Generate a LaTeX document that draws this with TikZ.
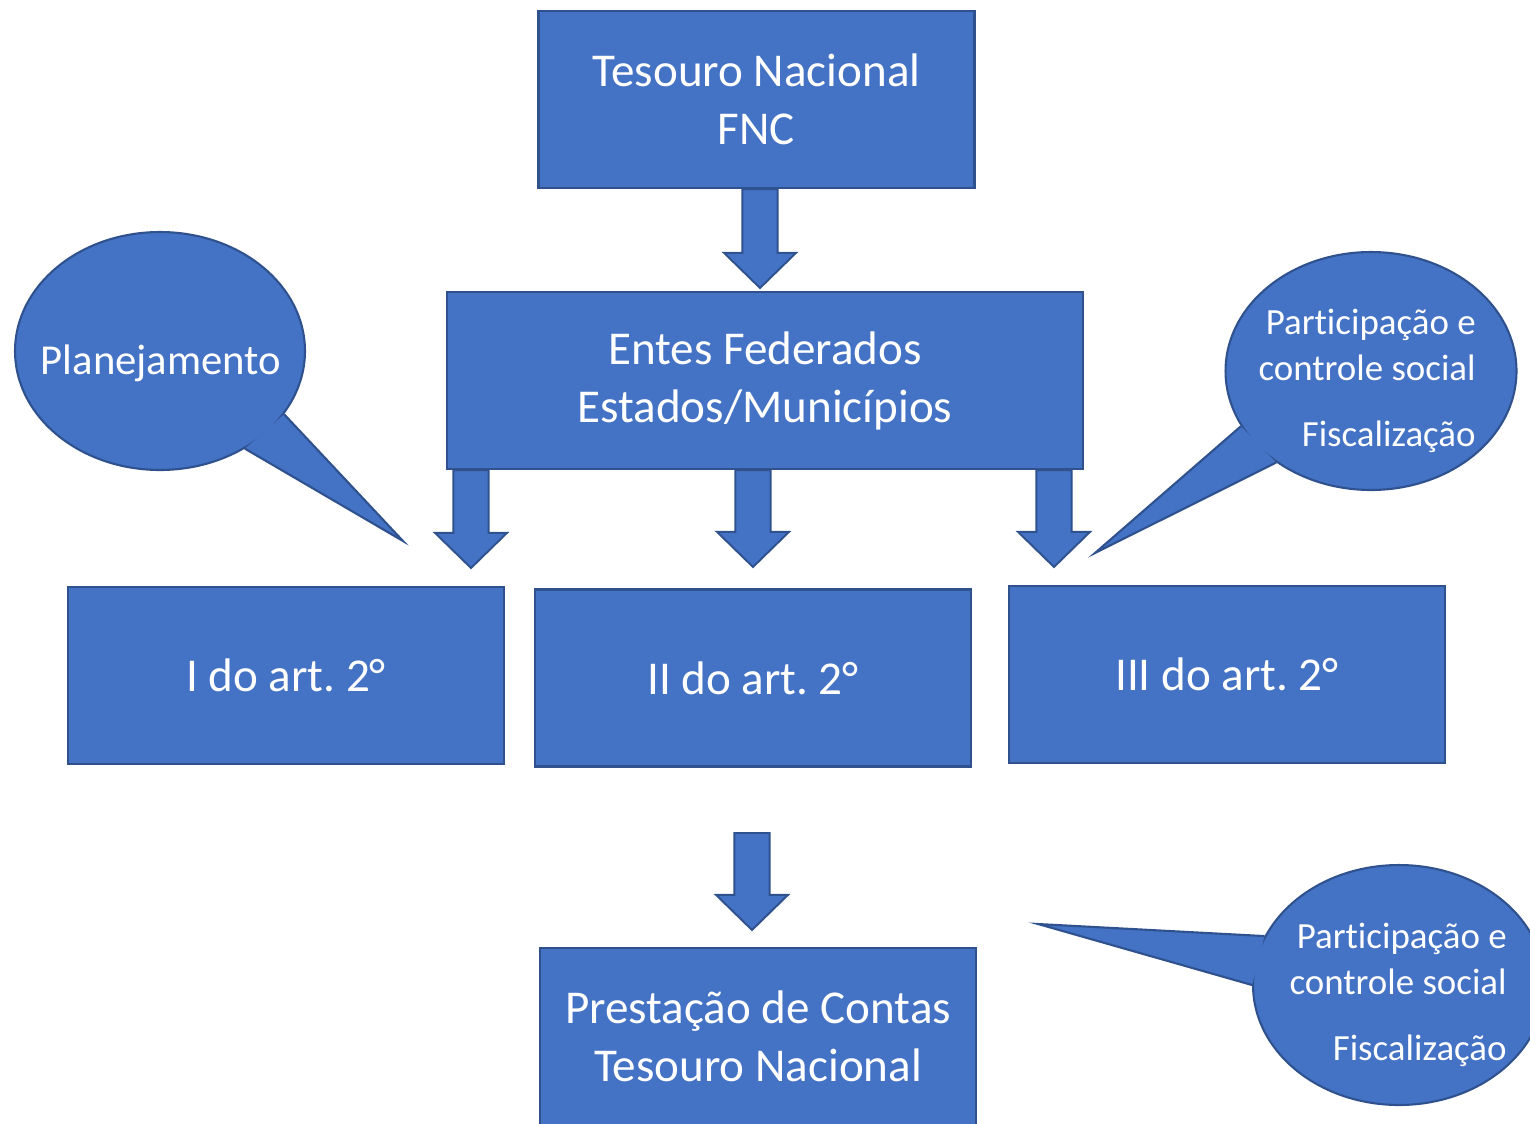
\documentclass[tikz,border=0pt]{standalone}
\usepackage{fontspec}
\setmainfont{Carlito}[Ligatures=NoCommon]
\usetikzlibrary{calc,positioning,shapes.geometric}

\definecolor{bluefill}{HTML}{4472C4}
\definecolor{blueedge}{HTML}{2F528F}

\tikzset{
  box/.style={rectangle, fill=bluefill, draw=blueedge, line width=1.3pt, text=white,
    minimum width=8.72cm, minimum height=3.54cm, inner sep=0, align=center,
    font=\fontsize{26.8}{33}\selectfont},
  barrow/.style={fill=bluefill, draw=blueedge, line width=1.1pt, line join=miter},
  bubble/.style={ellipse, fill=bluefill, draw=blueedge, line width=1.2pt, inner sep=0,
    minimum width=5.8cm, minimum height=4.76cm},
  tail/.style={fill=bluefill, draw=blueedge, line width=1.2pt, line join=miter},
  bubbletext/.style={text=white, inner sep=0, align=right, font=\fontsize{21}{26}\selectfont}
}

% block arrow: start point, tip
\newcommand{\blockarrow}[2]{%
  \draw[barrow] let \p1=(#1), \p2=(#2) in
    (\x1-10pt,\y1) -- (\x1-10pt,\y2+20pt) -- (\x1-20.5pt,\y2+20pt) -- (\x1,\y2)
    -- (\x1+20.5pt,\y2+20pt) -- (\x1+10pt,\y2+20pt) -- (\x1+10pt,\y1) -- cycle;}

\frenchspacing
\begin{document}
\begin{tikzpicture}[x=0.02cm, y=-0.02cm]
\clip (0,0) rectangle (1530,1123);

% boxes
\node[box] (tesouro) at (756.5,99.5) {Tesouro Nacional\\FNC};
\node[box, minimum width=12.72cm] (entes) at (765,380.5) {Entes Federados\\Estados/Municípios};
\node[box] (art1) at (286,675.5) {I do art. 2°};
\node[box] (art2) at (753,678) {II do art. 2°};
\node[box] (art3) at (1227,674.5) {III do art. 2°};
\node[box] (prest) at (758,1036.5) {Prestação de Contas\\Tesouro Nacional};

% arrows
\coordinate (t0) at (760,288);
\coordinate (t1) at (471,568);
\coordinate (t2) at (753,567);
\coordinate (t3) at (1054,567);
\coordinate (s4) at (752,833);
\coordinate (t4) at (752,930);
\blockarrow{tesouro.south -| t0}{t0}
\blockarrow{entes.south -| t1}{t1}
\blockarrow{entes.south -| t2}{t2}
\blockarrow{entes.south -| t3}{t3}
\blockarrow{s4}{t4}

% callouts
\node[bubble] (plan) at (160,351) {};
\node[bubble, minimum width=5.82cm] (part1) at (1371,371) {};
\node[bubble, minimum width=5.84cm, minimum height=4.8cm] (part2) at (1399,985) {};
\coordinate (t5) at (403,541);
\coordinate (t6) at (1095,553);
\coordinate (t7) at (1038,924);
\filldraw[tail] (plan.-27.5) -- (t5) -- (plan.-49);
\filldraw[tail] (part1.203.8) -- (t6) -- (part1.224.7);
\filldraw[tail] (part2.160.4) -- (t7) -- (part2.180);

\node[bubbletext, font=\fontsize{24.3}{29}\selectfont] (plantxt) at (161,363) {Planejamento};
\node[bubbletext, anchor=east] (part1txt) at (1476,381) {Participação e\\controle social\\[12pt]Fiscalização};
\node[bubbletext, anchor=east] (part2txt) at (1507,995) {Participação e\\controle social\\[12pt]Fiscalização};
\end{tikzpicture}
\end{document}
